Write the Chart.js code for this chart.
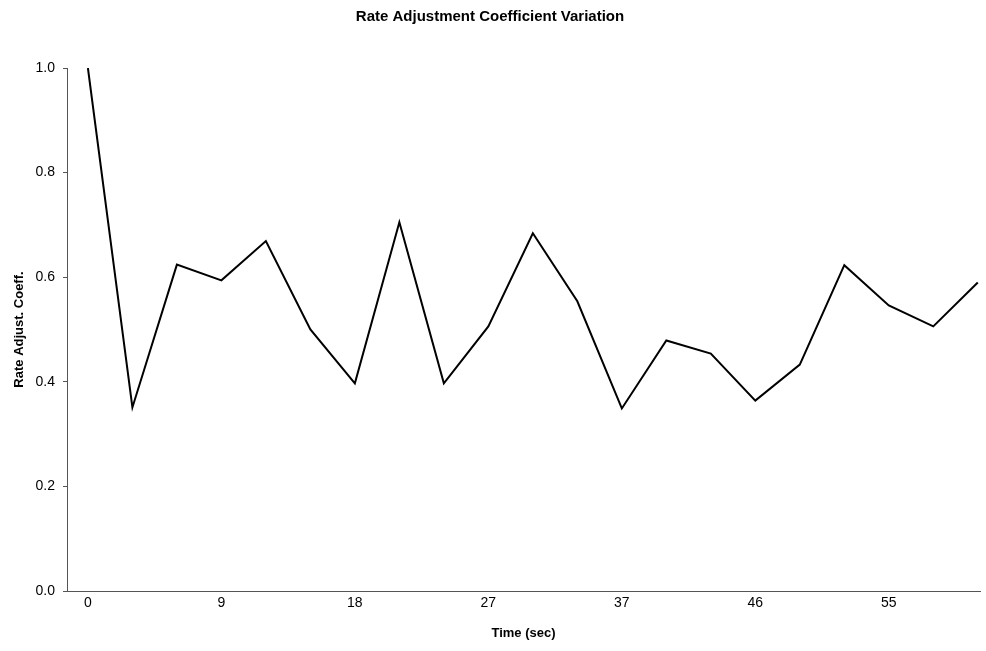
<!DOCTYPE html>
<html>
<head>
<meta charset="utf-8">
<title>Rate Adjustment Coefficient Variation</title>
<script src="https://cdn.jsdelivr.net/npm/chart.js@4/dist/chart.umd.min.js"></script>
<style>
  html, body { margin: 0; padding: 0; background: #fff; }
  #wrap { width: 986px; height: 651px; }
</style>
</head>
<body>
<div id="wrap"><canvas id="chartRate"></canvas></div>
<script>
// sample times (sec), one per measurement
const times = [0, 3, 6, 9, 12, 15, 18, 21, 24, 27, 31, 34, 37, 40, 43, 46, 49, 52, 55, 58, 61];

// rate adjustment coefficient per sample
const coeff = [1.0, 0.351, 0.624, 0.594, 0.669, 0.500, 0.397, 0.705, 0.397, 0.506, 0.684,
               0.554, 0.349, 0.479, 0.454, 0.364, 0.433, 0.623, 0.546, 0.506, 0.590];

// which samples get a time label on the x axis
const labelIdx = [0, 3, 6, 9, 12, 15, 18];

// y axis ticks
const yTicks = [0, 0.2, 0.4, 0.6, 0.8, 1.0];

const font = "'Liberation Sans', Arial, Helvetica, sans-serif";
const axisColor = "#555";

const ctx = document.getElementById("chartRate");

new Chart(ctx, {
  type: "line",
  data: {
    datasets: [{
      label: "Rate Adjust. Coeff.",
      data: coeff.map((v, i) => ({ x: i, y: v })),
      borderColor: "#000",
      borderWidth: 2,
      pointRadius: 0,
      tension: 0,
      fill: false
    }]
  },
  options: {
    responsive: true,
    maintainAspectRatio: false,
    animation: false,
    layout: { padding: { left: 0, right: 6, top: 0, bottom: 0 } },
    plugins: {
      legend: { display: false },
      tooltip: { enabled: false },
      title: {
        display: true,
        text: "Rate Adjustment Coefficient Variation",
        color: "#000",
        font: { family: font, size: 15, weight: "bold" },
        padding: { top: 8, bottom: 42 }
      }
    },
    scales: {
      x: {
        type: "linear",
        min: -0.47,
        max: 20.05,
        afterBuildTicks: scale => {
          scale.ticks = labelIdx.map(v => ({ value: v }));
        },
        afterFit: scale => { scale.height = 60; },
        grid: { display: false, drawTicks: false },
        border: { display: true, color: axisColor, width: 1 },
        ticks: {
          color: "#000",
          font: { family: font, size: 14 },
          padding: 4,
          maxRotation: 0,
          autoSkip: false,
          callback: v => times[v]
        },
        title: {
          display: true,
          text: "Time (sec)",
          color: "#000",
          font: { family: font, size: 13, weight: "bold" },
          padding: { top: 0, bottom: 10 }
        }
      },
      y: {
        min: 0,
        max: 1,
        afterBuildTicks: scale => {
          scale.ticks = yTicks.map(v => ({ value: v }));
        },
        afterFit: scale => { scale.width = 67; },
        grid: {
          display: true,
          drawOnChartArea: false,
          drawTicks: true,
          tickLength: 4,
          color: axisColor
        },
        border: { display: true, color: axisColor, width: 1 },
        ticks: {
          color: "#000",
          font: { family: font, size: 14 },
          padding: 8,
          callback: v => v.toFixed(1)
        },
        title: {
          display: true,
          text: "Rate Adjust. Coeff.",
          color: "#000",
          font: { family: font, size: 13, weight: "bold" },
          padding: { top: 12, bottom: 0 }
        }
      }
    }
  }
});
</script>
</body>
</html>
